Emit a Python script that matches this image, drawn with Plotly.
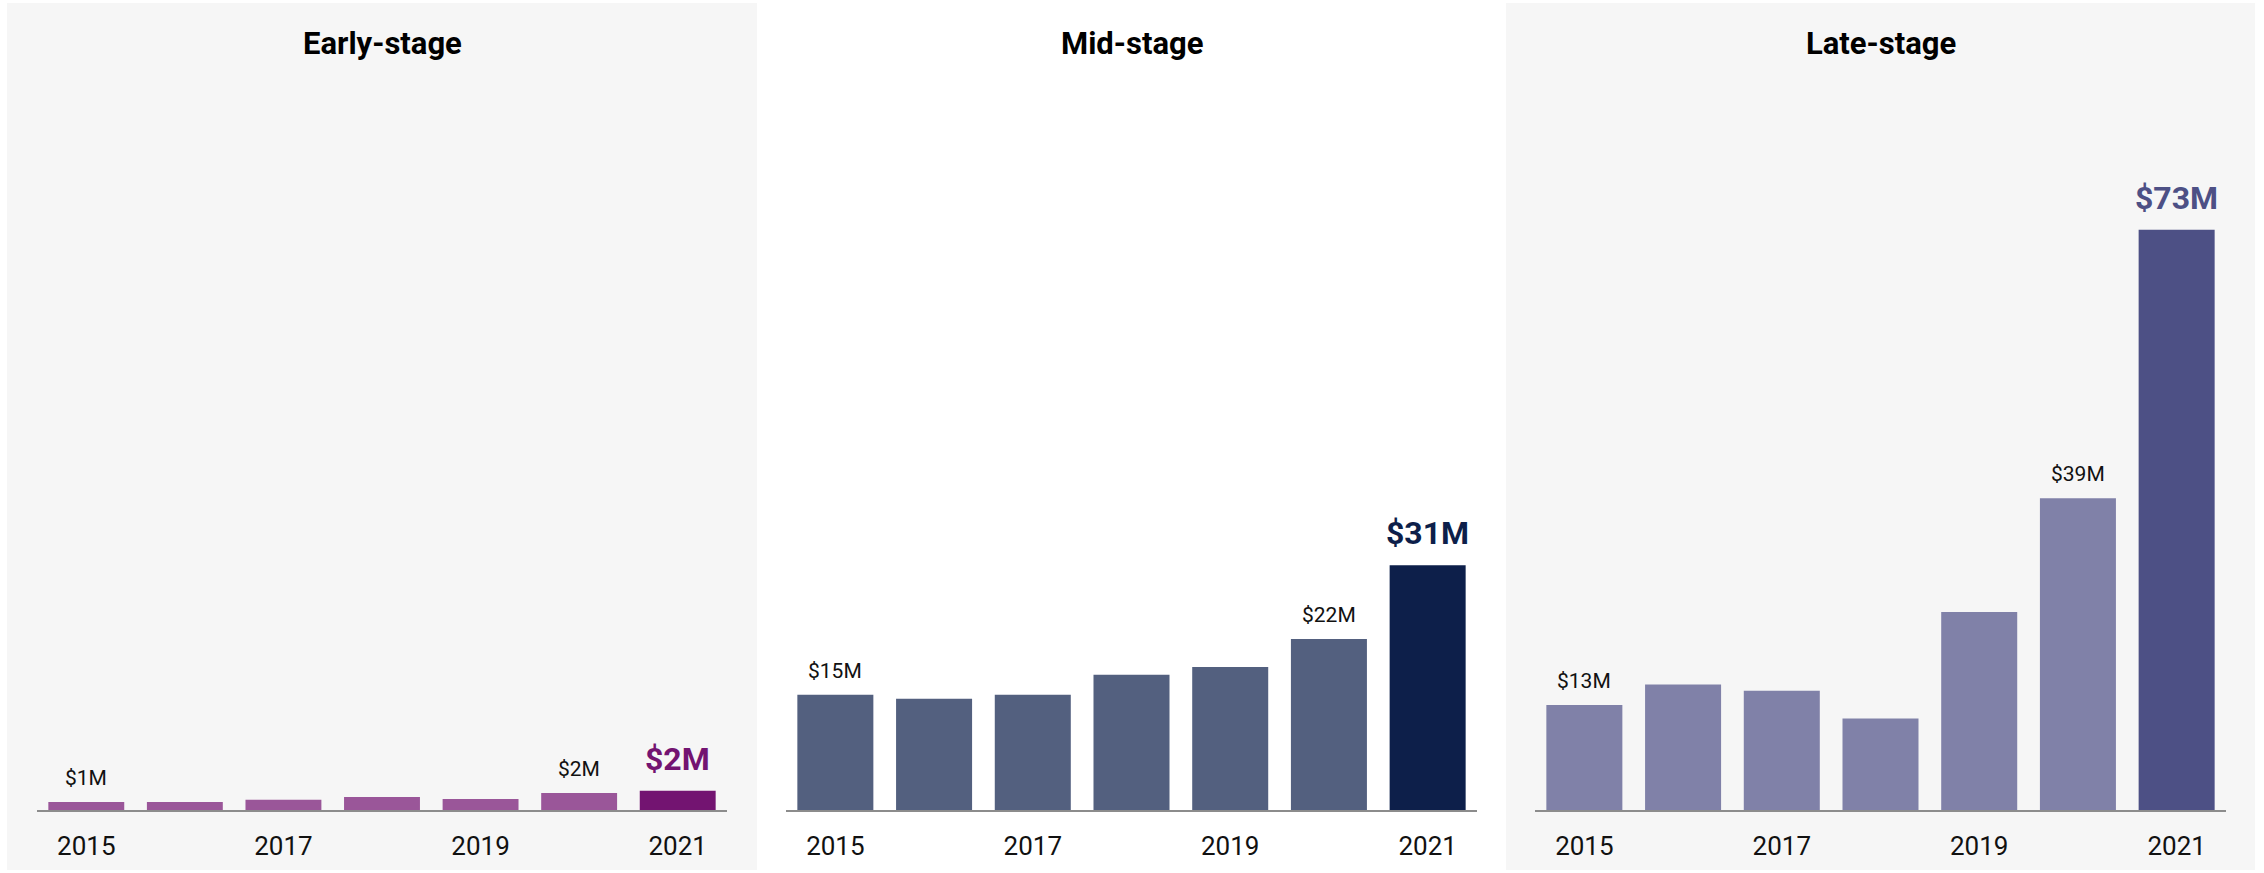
import plotly.graph_objects as go

years = ["2015", "2016", "2017", "2018", "2019", "2020", "2021"]
tick_years = ["2015", "2017", "2019", "2021"]

stages = ["Early-stage", "Mid-stage", "Late-stage"]
early = [1.02, 1.02, 1.30, 1.64, 1.38, 2.14, 2.43]
mid = [14.5, 14.0, 14.5, 17.0, 18.0, 21.5, 30.8]
late = [13.2, 15.8, 15.0, 11.5, 24.9, 39.2, 73.0]

early_labels = ["$1M", "", "", "", "", "$2M", "$2M"]
mid_labels = ["$15M", "", "", "", "", "$22M", "$31M"]
late_labels = ["$13M", "", "", "", "", "$39M", "$73M"]

base_colors = ["#9A5699", "#53607F", "#8081A8"]
hi_colors = ["#731471", "#0D1F4A", "#4D5085"]

series = [early, mid, late]
labels = [early_labels, mid_labels, late_labels]

W, H = 2264, 873
domains = [(37 / W, 727 / W), (786 / W, 1477 / W), (1535 / W, 2226 / W)]
panels = [(7 / W, 757 / W, "#F6F6F6"), (757 / W, 1506 / W, "#FFFFFF"), (1506 / W, 2255 / W, "#F6F6F6")]
ydom = (63 / H, 1.0)
ymax = 810 / 7.95

fig = go.Figure()
annotations = []
shapes = []

for x0, x1, col in panels:
    shapes.append(dict(type="rect", xref="paper", yref="paper", x0=x0, x1=x1,
                       y0=3 / H, y1=1 - 3 / H, fillcolor=col, line=dict(width=0), layer="below"))

for i in range(3):
    xa = "x" if i == 0 else f"x{i+1}"
    ya = "y" if i == 0 else f"y{i+1}"
    colors = [base_colors[i]] * (len(years) - 1) + [hi_colors[i]]
    fig.add_trace(go.Bar(x=years, y=series[i], marker=dict(color=colors, line=dict(width=0)),
                         xaxis=xa, yaxis=ya, showlegend=False, hoverinfo="skip"))
    for j, lab in enumerate(labels[i]):
        if not lab:
            continue
        last = j == len(years) - 1
        annotations.append(dict(
            x=j, y=series[i][j], xref=xa, yref=ya, text=lab, showarrow=False,
            yanchor="bottom", xanchor="center", yshift=11 if last else 10,
            font=dict(family="Roboto", size=32 if last else 21,
                      color=hi_colors[i] if last else "#111111",
                      weight="bold" if last else "normal")))
    annotations.append(dict(
        x=(domains[i][0] + domains[i][1]) / 2, y=1 - 43 / H, xref="paper", yref="paper",
        text=f"<b>{stages[i]}</b>", showarrow=False, yanchor="middle", xanchor="center",
        font=dict(family="Roboto", size=31, color="#000000")))

layout = dict(
    width=W, height=H, margin=dict(l=0, r=0, t=0, b=0),
    paper_bgcolor="#FFFFFF", plot_bgcolor="rgba(0,0,0,0)",
    bargap=0.23, font=dict(family="Roboto", color="#111111"),
    annotations=annotations, shapes=shapes,
)
for i in range(3):
    xk = "xaxis" if i == 0 else f"xaxis{i+1}"
    yk = "yaxis" if i == 0 else f"yaxis{i+1}"
    ya = "y" if i == 0 else f"y{i+1}"
    xa = "x" if i == 0 else f"x{i+1}"
    layout[xk] = dict(domain=list(domains[i]), anchor=ya, type="category",
                      categoryorder="array", categoryarray=years,
                      range=[-0.5, len(years) - 0.5], autorange=False,
                      tickvals=tick_years, ticktext=tick_years, tickangle=0,
                      showline=True, linecolor="#8C8C8C", linewidth=2,
                      showgrid=False, zeroline=False, ticks="",
                      ticklabelstandoff=12,
                      tickfont=dict(family="Roboto", size=26, color="#111111"),
                      fixedrange=True)
    layout[yk] = dict(domain=list(ydom), anchor=xa, range=[0, ymax], autorange=False,
                      visible=False, showgrid=False, zeroline=False, fixedrange=True)

fig.update_layout(**layout)
fig.write_html("out.html", config={"displayModeBar": False},
               post_script="document.body.style.margin='0';document.body.style.padding='0';")
